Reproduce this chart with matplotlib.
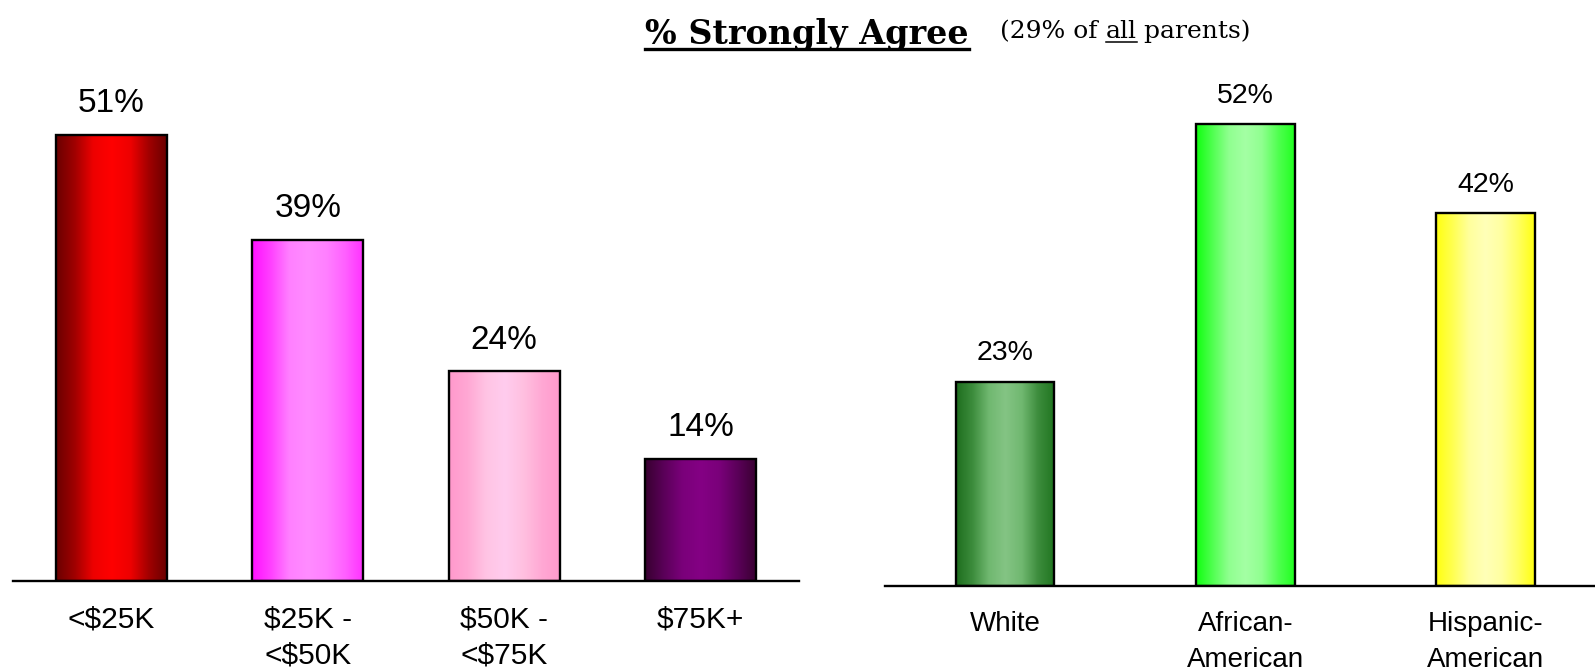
import numpy as np
import matplotlib
matplotlib.use("Agg")
import matplotlib.pyplot as plt
from matplotlib.colors import LinearSegmentedColormap
from matplotlib.lines import Line2D

# income groups
income_labels = ["<$25K", "$25K -\n<$50K", "$50K -\n<$75K", "$75K+"]
income_values = [51, 39, 24, 14]
income_colors = [
    ["#6a0000", "#a00000", "#ee0000", "#ff0000", "#ee0000", "#a00000", "#680000"],
    ["#ff10ff", "#ff40ff", "#ff80ff", "#ff8cff", "#ff80ff", "#ff60ff", "#ff30ff"],
    ["#ff99cc", "#ffa8d4", "#ffc4e4", "#ffccee", "#ffc0e0", "#ffa8d4", "#ff99cc"],
    ["#380030", "#5a0058", "#7a007a", "#840084", "#7a007a", "#5a0058", "#380030"],
]

# race / ethnicity groups
race_labels = ["White", "African-\nAmerican", "Hispanic-\nAmerican"]
race_values = [23, 52, 42]
race_colors = [
    ["#1e6e1e", "#3c8c3c", "#70b870", "#84c484", "#70b870", "#3c8c3c", "#207520"],
    ["#10ff10", "#50ff50", "#90ff90", "#a4ffa4", "#90ff90", "#50ff50", "#20ff20"],
    ["#ffff10", "#ffff50", "#ffff9c", "#ffffb8", "#ffffa0", "#ffff60", "#ffff10"],
]

W, H = 1595, 671
fig = plt.figure(figsize=(W / 100, H / 100), dpi=100)

ax1 = fig.add_axes([13 / W, (H - 581) / H, 786 / W, 525 / H])
ax2 = fig.add_axes([885 / W, (H - 586) / H, 710 / W, 533 / H])


def gradient_bars(ax, values, colors, width):
    x = np.arange(len(values))
    bars = ax.bar(x, values, width=width, facecolor="none", edgecolor="black",
                  linewidth=1.7, zorder=3)
    grad = np.linspace(0, 1, 256).reshape(1, -1)
    for rect, stops in zip(bars, colors):
        cmap = LinearSegmentedColormap.from_list("g", stops)
        x0, y0 = rect.get_x(), rect.get_y()
        im = ax.imshow(grad, cmap=cmap, aspect="auto", zorder=2,
                       extent=(x0, x0 + rect.get_width(), y0, y0 + rect.get_height()),
                       interpolation="bicubic")
        im.set_clip_path(rect)
    return bars


def style(ax, labels, n, xmax, fsize, pad, spacing):
    ax.set_xlim(-0.5, xmax)
    ax.set_ylim(0, 60)
    for s in ["top", "left", "right"]:
        ax.spines[s].set_visible(False)
    ax.spines["bottom"].set_linewidth(1.7)
    ax.set_yticks([])
    ax.set_xticks(range(n))
    ax.set_xticklabels(labels, fontsize=fsize, family="Liberation Sans",
                       linespacing=spacing)
    ax.tick_params(axis="x", length=0, pad=pad)


b1 = gradient_bars(ax1, income_values, income_colors, 0.565)
style(ax1, income_labels, 4, 3.5, 21.5, 18, 1.36)
for rect, v in zip(b1, income_values):
    ax1.annotate(f"{v}%", (rect.get_x() + rect.get_width() / 2, v),
                 xytext=(0, 11), textcoords="offset points", ha="center",
                 va="bottom", fontsize=24, family="Liberation Sans")

b2 = gradient_bars(ax2, race_values, race_colors, 0.41)
style(ax2, race_labels, 3, 2.456, 20, 18, 1.5)
for rect, v in zip(b2, race_values):
    ax2.annotate(f"{v}%", (rect.get_x() + rect.get_width() / 2, v),
                 xytext=(0, 11), textcoords="offset points", ha="center",
                 va="bottom", fontsize=20.5, family="Liberation Sans")

# heading with underlines
title = fig.text(645 / W, 1 - 44 / H, "% Strongly Agree", fontsize=24,
                 fontweight="bold", family="DejaVu Serif", va="baseline")
fig.canvas.draw()
r = fig.canvas.get_renderer()
bb = title.get_window_extent(r)
fig.add_artist(Line2D([bb.x0 / W, bb.x1 / W], [(H - 49) / H] * 2,
                      color="black", linewidth=2.4))

parts = ["(29% of ", "all", " parents)"]
xpos = 1000
for i, p in enumerate(parts):
    t = fig.text(xpos / W, 1 - 38 / H, p, fontsize=18, family="DejaVu Serif",
                 va="baseline")
    fig.canvas.draw()
    tb = t.get_window_extent(r)
    if i == 1:
        fig.add_artist(Line2D([tb.x0 / W, tb.x1 / W], [(H - 42) / H] * 2,
                              color="black", linewidth=1.1))
    xpos = tb.x1

fig.savefig("out.png", dpi=100)
